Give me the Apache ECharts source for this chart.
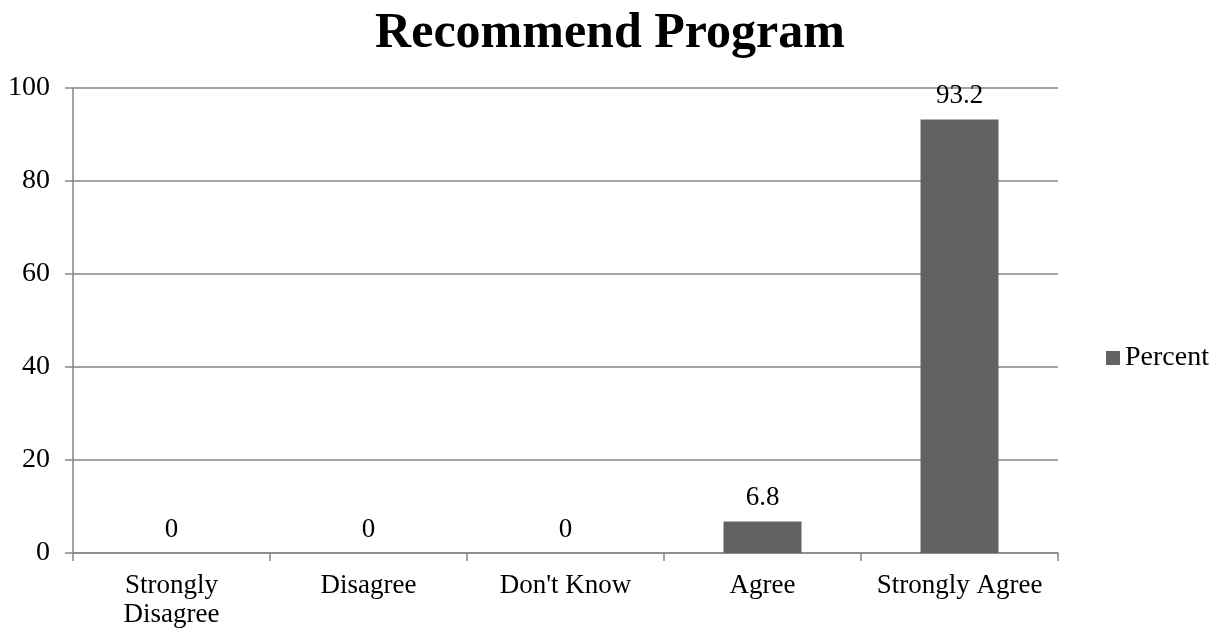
<!DOCTYPE html>
<html>
<head>
<meta charset="utf-8">
<script src="https://cdn.jsdelivr.net/npm/echarts@6/dist/echarts.min.js"></script>
<style>
html,body{margin:0;padding:0;background:#fff;}
#chart{width:1220px;height:635px;}
</style>
</head>
<body>
<div id="chart"></div>
<script>
const categories = ['Strongly\nDisagree', 'Disagree', "Don't Know", 'Agree', 'Strongly Agree'];
const percentValues = [0, 0, 0, 6.8, 93.2];
const seriesName = 'Percent';
const titleText = 'Recommend Program';

const FONT = '"Liberation Serif", "DejaVu Serif", serif';
const AXIS_COLOR = '#868686';

const chart = echarts.init(document.getElementById('chart'), null, {renderer: 'canvas'});
chart.setOption({
  animation: false,
  backgroundColor: '#ffffff',
  title: {
    text: titleText,
    left: 'center',
    top: 4,
    textStyle: {fontFamily: FONT, fontSize: 50, fontWeight: 'bold', color: '#000'}
  },
  legend: {
    data: [seriesName],
    orient: 'vertical',
    left: 1101,
    top: 339,
    itemWidth: 14,
    itemHeight: 14,
    itemGap: 8,
    icon: 'rect',
    textStyle: {fontFamily: FONT, fontSize: 28, color: '#000'}
  },
  grid: {left: 73, right: 162, top: 88, bottom: 82, containLabel: false},
  xAxis: {
    type: 'category',
    data: categories,
    boundaryGap: true,
    axisLine: {show: true, lineStyle: {color: AXIS_COLOR, width: 1.5}},
    axisTick: {show: true, length: 8, lineStyle: {color: AXIS_COLOR, width: 1.5}},
    axisLabel: {fontFamily: FONT, fontSize: 27, color: '#000', margin: 18, lineHeight: 29, interval: 0}
  },
  yAxis: {
    type: 'value',
    min: 0,
    max: 100,
    interval: 20,
    axisLine: {show: true, lineStyle: {color: AXIS_COLOR, width: 1.5}},
    axisTick: {show: true, length: 8, lineStyle: {color: AXIS_COLOR, width: 1.5}},
    splitLine: {show: true, lineStyle: {color: AXIS_COLOR, width: 1.5}},
    axisLabel: {fontFamily: FONT, fontSize: 28, color: '#000', margin: 23}
  },
  series: [{
    name: seriesName,
    type: 'bar',
    data: percentValues,
    barWidth: 78,
    itemStyle: {color: '#626262'},
    label: {
      show: true,
      position: 'top',
      distance: 10,
      fontFamily: FONT,
      fontSize: 27,
      color: '#000'
    }
  }]
});
</script>
</body>
</html>
